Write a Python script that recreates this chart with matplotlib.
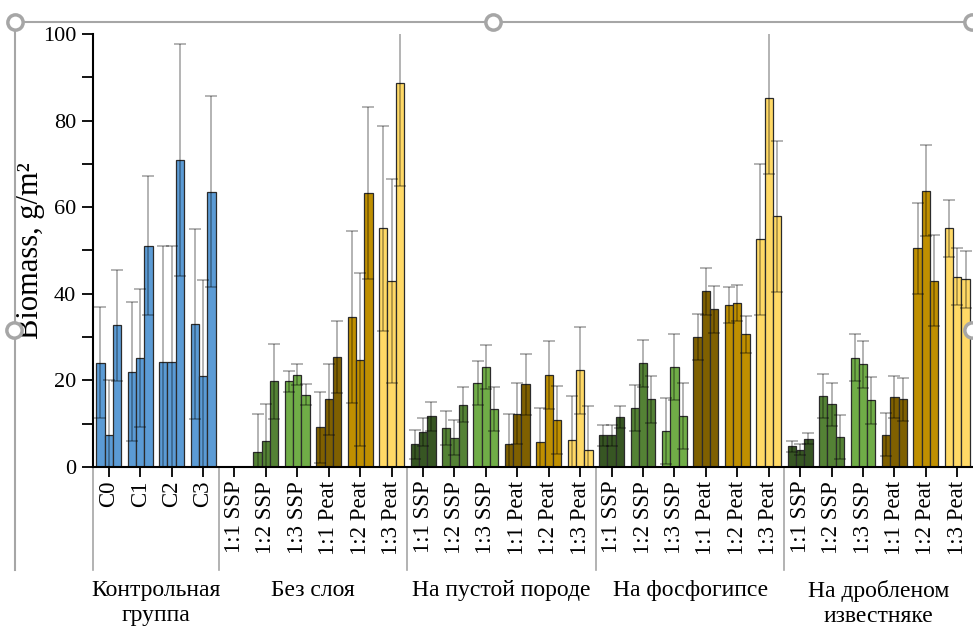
import numpy as np
import matplotlib.pyplot as plt
from matplotlib.lines import Line2D

categories = ["C0", "C1", "C2", "C3"] + ["1:1 SSP", "1:2 SSP", "1:3 SSP",
                                        "1:1 Peat", "1:2 Peat", "1:3 Peat"] * 4
groups = ["Контрольная\nгруппа", "Без слоя", "На пустой породе",
          "На фосфогипсе", "На дробленом\nизвестняке"]
group_sizes = [4, 6, 6, 6, 6]

# three bars per category
bar1 = [24.1, 22.0, 24.3, 33.0,
        0, 3.5, 19.8, 9.2, 34.7, 55.1,
        5.2, 9.0, 19.3, 5.2, 5.8, 6.3,
        7.3, 13.6, 8.3, 30.0, 37.4, 52.6,
        4.8, 16.4, 25.2, 7.5, 50.5, 55.1]
bar2 = [7.3, 25.2, 24.3, 21.1,
        0, 5.9, 21.3, 15.6, 24.8, 43.0,
        8.1, 6.8, 23.1, 12.3, 21.3, 22.3,
        7.3, 23.9, 23.0, 40.6, 37.9, 85.1,
        4.0, 14.5, 23.7, 16.2, 63.8, 43.9]
bar3 = [32.7, 51.1, 70.9, 63.6,
        0, 19.8, 16.7, 25.4, 63.3, 88.6,
        11.7, 14.4, 13.3, 19.1, 10.8, 4.0,
        11.6, 15.6, 11.7, 36.4, 30.6, 57.9,
        6.5, 6.9, 15.4, 15.6, 43.0, 43.3]
err = [12.9, 16.0, 26.7, 22.0,
       0, 8.7, 2.4, 8.2, 19.9, 23.6,
       3.3, 4.0, 5.1, 7.0, 7.9, 10.0,
       2.5, 5.4, 7.6, 5.4, 4.2, 17.4,
       1.25, 5.0, 5.4, 4.9, 10.5, 6.6]

control_color = "#5B9BD5"
treat_colors = ["#375623", "#548235", "#70AD47", "#7F6000", "#BF8F00", "#FFD966"]
colors = [control_color] * 4 + treat_colors * 4

plt.rcParams['font.family'] = ['Liberation Serif', 'DejaVu Serif']

fig = plt.figure(figsize=(9.73, 6.28), dpi=100)
ax = fig.add_axes([0.0956, 0.2564, 0.9044, 0.6895])

x = np.arange(len(categories))
w = 0.265
e = np.array(err)
for k, vals in enumerate([bar1, bar2, bar3]):
    pos = x + (k - 1) * w
    vals = np.array(vals)
    ax.bar(pos, vals, width=w, color=colors, edgecolor='#2b2b2b',
           linewidth=0.9, zorder=2)
    m = vals > 0
    ax.errorbar(pos[m], vals[m], yerr=e[m], fmt='none', ecolor='black',
                alpha=0.35, elinewidth=1.2, capsize=4, capthick=1.2, zorder=3)

ax.set_xlim(-0.5, len(categories) - 0.5)
ax.set_ylim(0, 100)
ax.set_yticks(range(0, 101, 20))
ax.set_yticks(range(10, 100, 20), minor=True)
ax.tick_params(axis='y', which='both', direction='out', length=8, width=1.3,
               labelsize=16, pad=4)
ax.set_xticks(x)
ax.set_xticklabels(categories, rotation=90, fontsize=16.5)
ax.tick_params(axis='x', direction='out', length=7, width=1.3, pad=3)

for s in ['top', 'right']:
    ax.spines[s].set_visible(False)
for s in ['left', 'bottom']:
    ax.spines[s].set_linewidth(1.5)

ax.set_ylabel("Biomass, g/m²", fontsize=22)
ax.yaxis.set_label_coords(-0.054, 0.5)

# group separators and names under the axis
tr = ax.get_xaxis_transform()
start = 0
for name, n in zip(groups, group_sizes):
    ax.plot([start - 0.5, start - 0.5], [0, -0.238], transform=tr,
            color='#a6a6a6', lw=1.2, clip_on=False)
    ax.text(start + n / 2 - 0.5, -0.262, name, transform=tr, ha='center',
            va='top', fontsize=17, linespacing=1.2)
    start += n

# selection frame of the embedded chart
grey = '#a6a6a6'
fig.add_artist(Line2D([15 / 973, 972 / 973], [1 - 22 / 628] * 2,
                      transform=fig.transFigure, color=grey, lw=1.5))
fig.add_artist(Line2D([14.7 / 973] * 2, [1 - 22 / 628, 1 - 570 / 628],
                      transform=fig.transFigure, color=grey, lw=1.5))
for px, py in [(15, 22), (493, 22), (972, 22), (14, 330), (972, 330)]:
    fig.add_artist(Line2D([px / 973], [1 - py / 628], marker='o',
                          markersize=11, mfc='white', mec=grey, mew=2.5,
                          transform=fig.transFigure))

fig.savefig("out.png", dpi=100)
